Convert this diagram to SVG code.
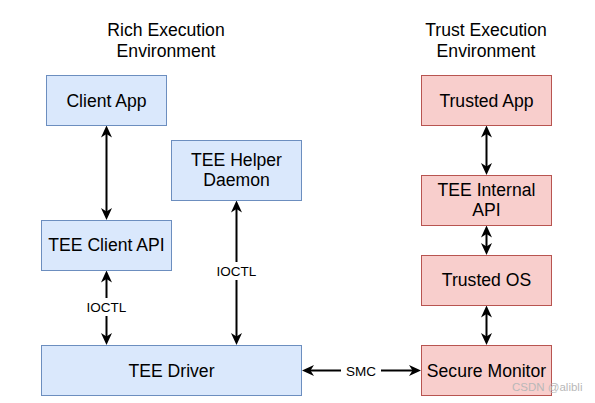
<svg xmlns="http://www.w3.org/2000/svg" width="595" height="403" viewBox="0 0 595 403">
<style>
text{font-family:"Liberation Sans",Arial,sans-serif;fill:#000;text-anchor:middle}
.t{font-size:17.6px}
.l{font-size:13.5px}
.b rect{fill:#dae8fc;stroke:#6c8ebf;stroke-width:1}
.r rect{fill:#f8cecc;stroke:#b85450;stroke-width:1}
.c line{stroke:#000;stroke-width:2;fill:none}
.wm{font-size:11.5px;fill:#b8b8b8;text-anchor:start}
</style>
<defs>
<marker id="a" viewBox="0 0 12 12" refX="8" refY="6" markerWidth="12" markerHeight="12" markerUnits="userSpaceOnUse" orient="auto-start-reverse">
<path d="M0,0.5 L12,6 L0,11.5 L3.5,6 z" fill="#000"/>
</marker>
</defs>
<rect width="595" height="403" fill="#fff"/>
<g id="title-ree"><text class="t" x="166" y="36">Rich Execution</text><text class="t" x="166" y="56.5">Environment</text></g>
<g id="title-tee"><text class="t" x="486" y="36">Trust Execution</text><text class="t" x="486" y="56.5">Environment</text></g>
<g class="c" id="connectors">
<line x1="106.5" y1="129.5" x2="106.5" y2="216" marker-start="url(#a)" marker-end="url(#a)"/>
<line x1="106.5" y1="274.5" x2="106.5" y2="341" marker-start="url(#a)" marker-end="url(#a)"/>
<rect x="82" y="298" width="49" height="18" fill="#fff"/>
<text class="l" x="106.5" y="311.5">IOCTL</text>
<line x1="236.5" y1="204.5" x2="236.5" y2="341" marker-start="url(#a)" marker-end="url(#a)"/>
<rect x="212" y="262" width="49" height="18" fill="#fff"/>
<text class="l" x="236.5" y="275.5">IOCTL</text>
<line x1="486.5" y1="129.5" x2="486.5" y2="171" marker-start="url(#a)" marker-end="url(#a)"/>
<line x1="486.5" y1="229.5" x2="486.5" y2="251" marker-start="url(#a)" marker-end="url(#a)"/>
<line x1="486.5" y1="309.5" x2="486.5" y2="341" marker-start="url(#a)" marker-end="url(#a)"/>
<line x1="306" y1="370.5" x2="417" y2="370.5" marker-start="url(#a)" marker-end="url(#a)"/>
<rect x="341" y="362" width="40" height="18" fill="#fff"/>
<text class="l" x="361" y="375.5">SMC</text>
</g>
<g id="client-app" class="b"><rect x="46.5" y="75.5" width="120" height="50"/><text class="t" x="106.5" y="106.5">Client App</text></g>
<g id="tee-helper" class="b"><rect x="171.5" y="140.5" width="130" height="60"/><text class="t" x="236.5" y="165.5">TEE Helper</text><text class="t" x="236.5" y="186">Daemon</text></g>
<g id="tee-client-api" class="b"><rect x="41.5" y="220.5" width="130" height="50"/><text class="t" x="106.5" y="251">TEE Client API</text></g>
<g id="tee-driver" class="b"><rect x="41.5" y="345.5" width="260" height="50"/><text class="t" x="171.5" y="376.5">TEE Driver</text></g>
<g id="trusted-app" class="r"><rect x="421.5" y="75.5" width="130" height="50"/><text class="t" x="486.5" y="106.5">Trusted App</text></g>
<g id="tee-internal-api" class="r"><rect x="421.5" y="175.5" width="130" height="50"/><text class="t" x="486.5" y="195.5">TEE Internal</text><text class="t" x="486.5" y="216">API</text></g>
<g id="trusted-os" class="r"><rect x="421.5" y="255.5" width="130" height="50"/><text class="t" x="486.5" y="286">Trusted OS</text></g>
<g id="secure-monitor" class="r"><rect x="421.5" y="345.5" width="130" height="50"/><text class="t" x="486.5" y="376.5">Secure Monitor</text></g>
<text class="wm" x="512" y="391">CSDN @alibli</text>
</svg>
